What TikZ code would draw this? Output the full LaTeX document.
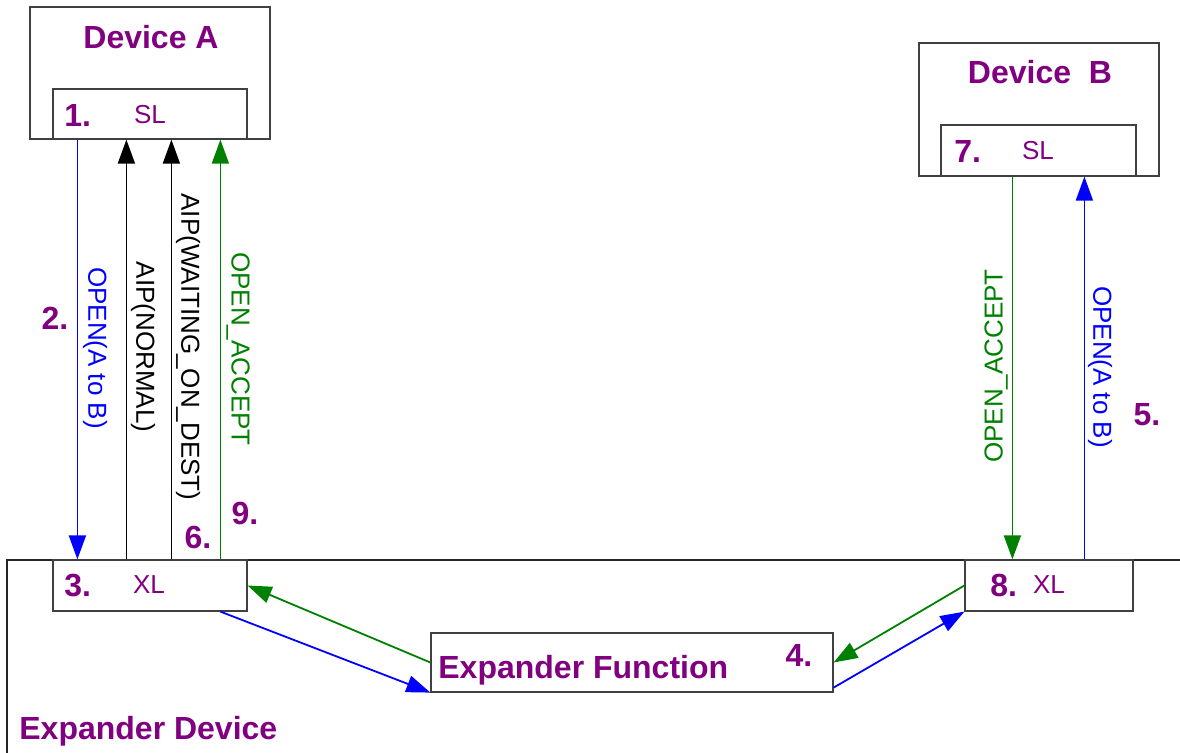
\documentclass[tikz,border=0pt]{standalone}
\usepackage{fontspec}
\setmainfont{Liberation Sans}
\usetikzlibrary{arrows.meta}
\definecolor{ppl}{RGB}{128,0,128}
\definecolor{grn}{RGB}{0,128,0}
\definecolor{blu}{RGB}{0,0,255}
\tikzset{
  box/.style={draw=black!75, line width=0.6pt, rectangle, inner sep=0pt, fill=white},
  big/.style={font=\fontsize{16}{18}\selectfont\bfseries, text=ppl, inner sep=0pt},
  small/.style={font=\fontsize{13}{15}\selectfont, text=ppl, inner sep=0pt},
  lbl/.style={font=\fontsize{13}{15}\selectfont, inner sep=0pt},
  msg/.style={line width=0.9pt, -{Triangle[length=12pt,width=8.5pt]}},
}
\begin{document}
\begin{tikzpicture}[x=0.5pt,y=-0.5pt]
\useasboundingbox (0,0) rectangle (1180,752);
% Expander device outline
\draw[line width=0.6pt, black!85] (7,760) -- (7,560) -- (1185,560);
\node[big, anchor=west] (expdev) at (19,731) {Expander Device};
% Device A
\node[box, minimum width=120pt, minimum height=66pt] (devA) at (150,73) {};
\node[big] (devAt) at (151,37) {Device A};
\node[box, minimum width=97pt, minimum height=25pt] (slA) at (150,114) {};
\node[big, anchor=west] (n1) at (64,115) {1.};
\node[small] (slAt) at (150,115) {SL};
% Device B
\node[box, minimum width=120pt, minimum height=66.5pt] (devB) at (1039,109.5) {};
\node[big] (devBt) at (1040,72) {Device\ \ B};
\node[box, minimum width=97.5pt, minimum height=25.5pt] (slB) at (1038.5,150.5) {};
\node[big, anchor=west] (n7) at (954,151) {7.};
\node[small] (slBt) at (1038,151) {SL};
% XL boxes
\node[box, minimum width=97pt, minimum height=25.5pt] (xlA) at (150,585.5) {};
\node[big, anchor=west] (n3) at (64,585) {3.};
\node[small] (xlAt) at (149,585) {XL};
\node[box, minimum width=84pt, minimum height=25.5pt] (xlB) at (1049,585.5) {};
\node[big, anchor=west] (n8) at (990,585) {8.};
\node[small] (xlBt) at (1049,585) {XL};
% Expander function
\node[box, minimum width=201pt, minimum height=29.5pt] (ef) at (632,662.5) {};
\node[big, anchor=west] (eft) at (438,670) {Expander Function};
\node[big] (n4) at (799,655) {4.};
% vertical messages left
\draw[msg, blu] ([xshift=12.5pt]slA.south west) -- ([xshift=12.5pt]xlA.north west);
\draw[msg, black] ([xshift=37pt]xlA.north west) -- ([xshift=37pt]slA.south west);
\draw[msg, black] ([xshift=59.5pt]xlA.north west) -- ([xshift=59.5pt]slA.south west);
\draw[msg, grn] ([xshift=84pt]xlA.north west) -- ([xshift=84pt]slA.south west);
\node[lbl, text=blu, rotate=-90] (l1) at (95,348) {OPEN(A to B)};
\node[lbl, text=black, rotate=-90] (l2) at (143,347) {AIP(NORMAL)};
\node[lbl, text=black, rotate=-90] (l3) at (188,347) {AIP(WAITING\_ON\_DEST)};
\node[lbl, text=grn, rotate=-90] (l4) at (238,349) {OPEN\_ACCEPT};
\node[big] (n2) at (55,318) {2.};
\node[big] (n6) at (198,537) {6.};
\node[big] (n9) at (245,513) {9.};
% vertical messages right
\draw[msg, grn] ([xshift=36pt]slB.south west) -- ([xshift=24pt]xlB.north west);
\draw[msg, blu] ([xshift=60pt]xlB.north west) -- ([xshift=72pt]slB.south west);
\node[lbl, text=grn, rotate=90] (r1) at (996,366) {OPEN\_ACCEPT};
\node[lbl, text=blu, rotate=-90] (r2) at (1100,367) {OPEN(A to B)};
\node[big] (n5) at (1147,415) {5.};
% diagonal messages
\draw[msg, grn] (ef.west) -- (xlA.east);
\draw[msg, blu] ([xshift=84pt]xlA.south west) -- (ef.south west);
\draw[msg, grn] (xlB.west) -- (ef.east);
\draw[msg, blu] ([yshift=2.5pt]ef.south east) -- (xlB.south west);
\end{tikzpicture}
\end{document}
